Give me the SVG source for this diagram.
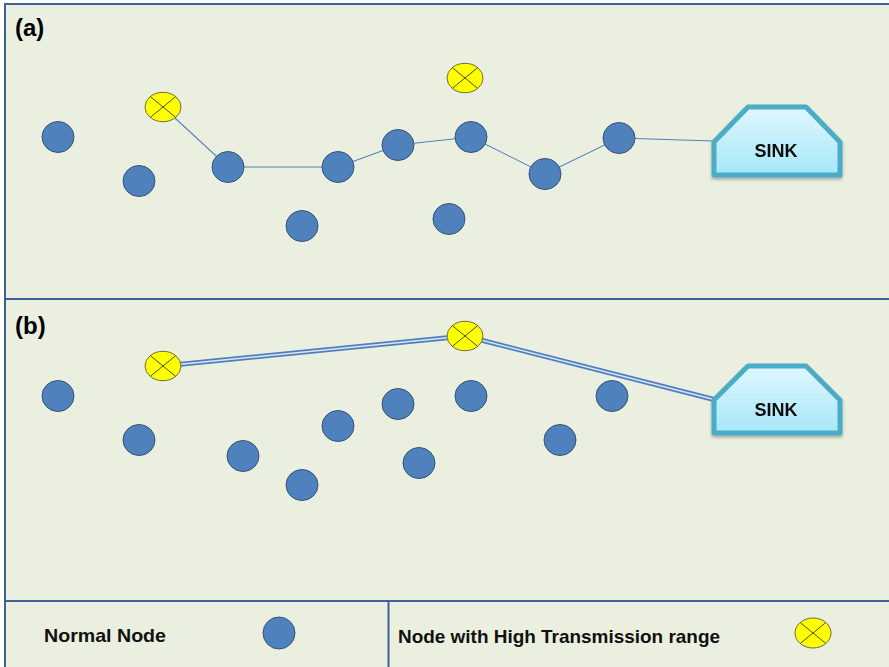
<svg xmlns="http://www.w3.org/2000/svg" width="889" height="667" viewBox="0 0 889 667">
<style>
.panel{fill:#EBEFDF;stroke:#3F6294;stroke-width:2}
.n{fill:#4F81BD;stroke:#385478;stroke-width:1}
.y{fill:#FFFF00;stroke:#6E6E3C;stroke-width:1}
.x{stroke:#4E4E28;stroke-width:1}
.link{stroke:#4F81BD;stroke-width:1.1;fill:none}
.dbl{stroke:#4F7FC0;stroke-width:5;fill:none}
.dblm{stroke:#DCE5F0;stroke-width:1.4;fill:none}
.sink{fill:url(#sg);stroke:#4BACC6;stroke-width:5;stroke-linejoin:round}
.lbl{font-family:"Liberation Sans",Arial,sans-serif;font-weight:bold;fill:#000}
.st{font-family:"Liberation Sans",Arial,sans-serif;font-weight:bold;font-size:18px;fill:#111;text-anchor:middle}
.lg{font-family:"Liberation Sans",Arial,sans-serif;font-weight:bold;font-size:19px;fill:#111}
</style>
<defs>
<linearGradient id="sg" x1="0" y1="0" x2="0" y2="1">
<stop offset="0" stop-color="#E0F7FE"/>
<stop offset="1" stop-color="#A6E7FA"/>
</linearGradient>
<filter id="sh" x="-10%" y="-10%" width="120%" height="130%">
<feDropShadow dx="0" dy="2" stdDeviation="1.5" flood-color="#000" flood-opacity="0.3"/>
</filter>
<g id="yx">
<line class="x" x1="-12.7" y1="-10.4" x2="12.7" y2="10.4"/>
<line class="x" x1="12.7" y1="-10.4" x2="-12.7" y2="10.4"/>
</g>
</defs>
<rect x="0" y="0" width="889" height="667" fill="#FFFFFF"/>
<rect class="panel" x="5" y="4" width="890" height="295"/>
<rect class="panel" x="5" y="299" width="890" height="302"/>
<rect class="panel" x="5" y="601" width="890" height="70"/>
<line x1="388.5" y1="601" x2="388.5" y2="667" stroke="#3F6294" stroke-width="2"/>
<text class="lbl" x="15" y="36" font-size="24">(a)</text>
<text class="lbl" x="15" y="334" font-size="24">(b)</text>
<g id="connectors">
<polyline class="link" points="163,107 228,167 338,167 398,145 471,137 545,174 619,138 714,141"/>
<line class="dbl" x1="163" y1="366" x2="465" y2="336"/>
<line class="dblm" x1="163" y1="366" x2="465" y2="336"/>
<line class="dbl" x1="465" y1="336" x2="716" y2="400"/>
<line class="dblm" x1="465" y1="336" x2="716" y2="400"/>
</g>
<g id="a-nodes">
<g id="a-n1"><ellipse class="n" cx="58" cy="137" rx="16" ry="15.5"/></g>
<g id="a-n2"><ellipse class="n" cx="139" cy="181" rx="16" ry="15.5"/></g>
<g id="a-n3"><ellipse class="n" cx="228" cy="167" rx="16" ry="15.5"/></g>
<g id="a-n4"><ellipse class="n" cx="338" cy="167" rx="16" ry="15.5"/></g>
<g id="a-n5"><ellipse class="n" cx="398" cy="145" rx="16" ry="15.5"/></g>
<g id="a-n6"><ellipse class="n" cx="471" cy="137" rx="16" ry="15.5"/></g>
<g id="a-n7"><ellipse class="n" cx="545" cy="174" rx="16" ry="15.5"/></g>
<g id="a-n8"><ellipse class="n" cx="619" cy="138" rx="16" ry="15.5"/></g>
<g id="a-n9"><ellipse class="n" cx="302" cy="226" rx="16" ry="15.5"/></g>
<g id="a-n10"><ellipse class="n" cx="449" cy="219" rx="16" ry="15.5"/></g>
<g id="a-y1"><ellipse class="y" cx="163" cy="107" rx="18" ry="14.7"/><use href="#yx" x="163" y="107"/></g>
<g id="a-y2"><ellipse class="y" cx="465" cy="78" rx="18" ry="14.7"/><use href="#yx" x="465" y="78"/></g>
<g id="a-sink" filter="url(#sh)"><polygon class="sink" points="714,142 748,107 806,107 840,142 840,175 714,175"/><text class="st" x="776" y="157">SINK</text></g>
</g>
<g id="b-nodes">
<g id="b-n1"><ellipse class="n" cx="58" cy="396" rx="16" ry="15.5"/></g>
<g id="b-n2"><ellipse class="n" cx="139" cy="440" rx="16" ry="15.5"/></g>
<g id="b-n3"><ellipse class="n" cx="243" cy="456" rx="16" ry="15.5"/></g>
<g id="b-n4"><ellipse class="n" cx="302" cy="485" rx="16" ry="15.5"/></g>
<g id="b-n5"><ellipse class="n" cx="338" cy="426" rx="16" ry="15.5"/></g>
<g id="b-n6"><ellipse class="n" cx="398" cy="404" rx="16" ry="15.5"/></g>
<g id="b-n7"><ellipse class="n" cx="471" cy="396" rx="16" ry="15.5"/></g>
<g id="b-n8"><ellipse class="n" cx="419" cy="463" rx="16" ry="15.5"/></g>
<g id="b-n9"><ellipse class="n" cx="560" cy="440" rx="16" ry="15.5"/></g>
<g id="b-n10"><ellipse class="n" cx="612" cy="396" rx="16" ry="15.5"/></g>
<g id="b-y1"><ellipse class="y" cx="163" cy="366" rx="18" ry="14.7"/><use href="#yx" x="163" y="366"/></g>
<g id="b-y2"><ellipse class="y" cx="465" cy="336" rx="18" ry="14.7"/><use href="#yx" x="465" y="336"/></g>
<g id="b-sink" filter="url(#sh)"><polygon class="sink" points="714,400 748,366 806,366 840,400 840,433 714,433"/><text class="st" x="776" y="416">SINK</text></g>
</g>
<g id="legend">
<text class="lg" x="44" y="642" textLength="122" lengthAdjust="spacingAndGlyphs">Normal Node</text>
<g id="leg-n"><ellipse class="n" cx="279" cy="633" rx="16" ry="16"/></g>
<text class="lg" x="398" y="643" textLength="322" lengthAdjust="spacingAndGlyphs">Node with High Transmission range</text>
<g id="leg-y"><ellipse class="y" cx="813" cy="633" rx="18" ry="15"/><use href="#yx" x="813" y="633"/></g>
</g>
</svg>
